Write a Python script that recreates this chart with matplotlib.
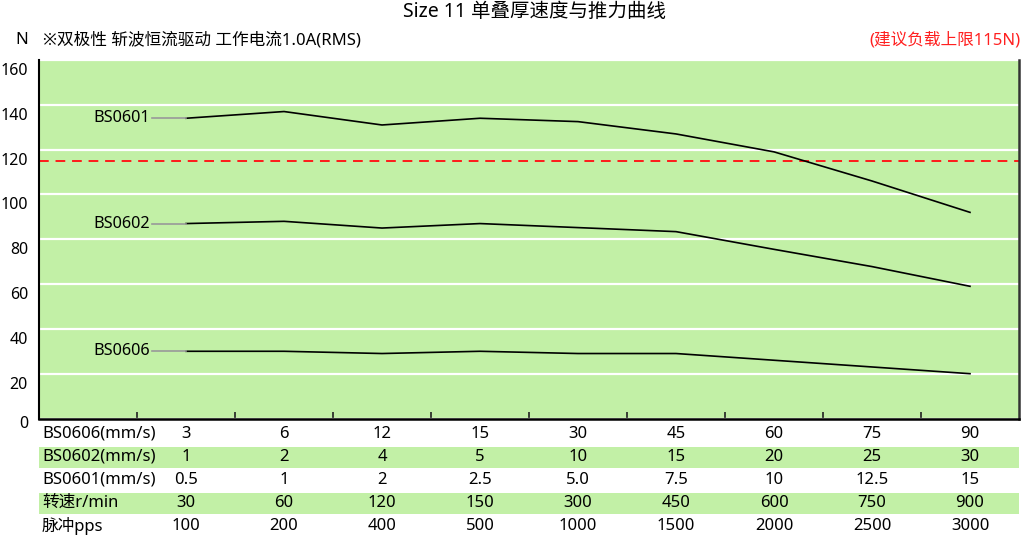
import numpy as np
import matplotlib.pyplot as plt
from matplotlib.patches import Rectangle
import matplotlib.transforms as mtransforms

plt.rcParams['font.family'] = ['Noto Sans', 'Noto Sans CJK SC', 'DejaVu Sans']

# data
speed_0606 = ['3', '6', '12', '15', '30', '45', '60', '75', '90']
speed_0602 = ['1', '2', '4', '5', '10', '15', '20', '25', '30']
speed_0601 = ['0.5', '1', '2', '2.5', '5.0', '7.5', '10', '12.5', '15']
rpm = ['30', '60', '120', '150', '300', '450', '600', '750', '900']
pps = ['100', '200', '400', '500', '1000', '1500', '2000', '2500', '3000']

force_0601 = [134, 137, 131, 134, 132.5, 127, 119, 106, 92]
force_0602 = [87, 88, 85, 87, 85.2, 83.4, 75.5, 67.8, 59]
force_0606 = [30, 30, 29, 30, 29, 29, 26, 23, 20]
limit = 115

series = [('BS0601', force_0601), ('BS0602', force_0602), ('BS0606', force_0606)]
rows = [('BS0606(mm/s)', speed_0606), ('BS0602(mm/s)', speed_0602),
        ('BS0601(mm/s)', speed_0601), ('转速r/min', rpm), ('脉冲pps', pps)]

green = '#c2f0a6'

fig = plt.figure(figsize=(10.22, 5.37), dpi=100)
ax = fig.add_axes([39 / 1022, 1 - 418.5 / 537, 980 / 1022, 358.5 / 537])
ax.set_facecolor(green)

x = np.arange(len(speed_0606))
ax.set_xlim(-1.5, 8.5)
ax.set_ylim(0, 160)

ax.set_yticks(np.arange(0, 161, 20))
ax.grid(axis='y', color='white', lw=1.6)
ax.set_axisbelow(True)
ax.tick_params(axis='y', length=0, labelsize=11.5, pad=8)
# labels sit a little below their gridlines in the original
for lab in ax.get_yticklabels():
    shift = 3 if lab.get_text() == '0' else 9
    off = mtransforms.ScaledTranslation(0, -shift / 100, fig.dpi_scale_trans)
    lab.set_transform(lab.get_transform() + off)

ax.set_xticks(np.arange(-0.5, 8, 1))
ax.set_xticklabels([])
ax.tick_params(axis='x', direction='in', length=5, width=1.2, color='#222222')

ax.spines['top'].set_visible(False)
ax.spines['left'].set_linewidth(1.5)
ax.spines['bottom'].set_linewidth(1.8)
ax.spines['right'].set_linewidth(1.8)
ax.spines['right'].set_color('#333333')

for name, vals in series:
    ax.plot(x, vals, color='black', lw=1.2, solid_joinstyle='round', zorder=3)
    ax.plot([-0.35, 0], [vals[0], vals[0]], color='#999999', lw=1.2, zorder=3)
    ax.text(-0.37, vals[0], name, ha='right', va='center', fontsize=11.7)

ax.axhline(limit, color='#ff1a1a', lw=1.4, ls=(0, (5, 3.5)), zorder=2)

# table under the axis
trans = mtransforms.blended_transform_factory(ax.transData, ax.transAxes)
row_y = [-0.0432, -0.107, -0.1715, -0.2357, -0.2999]
for i, (label, vals) in enumerate(rows):
    yy = row_y[i]
    if i in (1, 3):
        ax.add_patch(Rectangle((-1.5, yy - 0.031), 10, 0.058, transform=trans,
                               facecolor=green, edgecolor='none', clip_on=False))
    ax.text(-1.47, yy, label, transform=trans, ha='left', va='center', fontsize=12)
    for xi, v in zip(x, vals):
        ax.text(xi, yy, v, transform=trans, ha='center', va='center', fontsize=12)

fig.text(534 / 1022, 1 - 12 / 537, 'Size 11 单叠厚速度与推力曲线', ha='center', va='center',
         fontsize=14)
fig.text(22 / 1022, 1 - 40 / 537, 'N', ha='center', va='center', fontsize=12)
fig.text(43 / 1022, 1 - 40 / 537, '※双极性 斩波恒流驱动 工作电流1.0A(RMS)', ha='left', va='center',
         fontsize=12)
fig.text(1020 / 1022, 1 - 40 / 537, '(建议负载上限115N)', ha='right', va='center',
         fontsize=12, color='#ff2020')

fig.savefig('out.png', dpi=100)
